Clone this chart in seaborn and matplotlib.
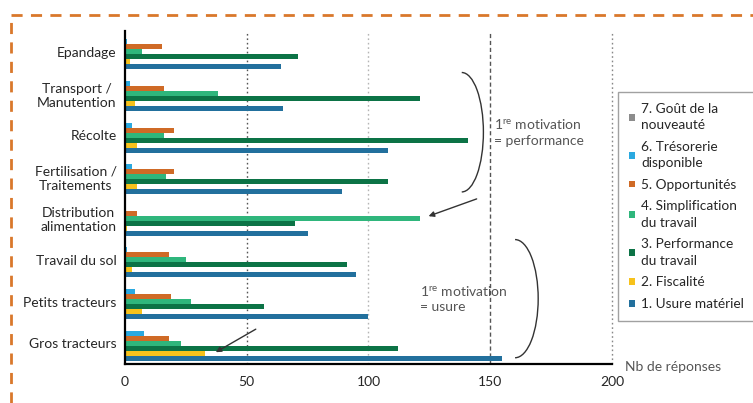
import matplotlib
matplotlib.use('Agg')
import matplotlib.pyplot as plt
from matplotlib.patches import Arc
from matplotlib.lines import Line2D
import seaborn as sns
import pandas as pd

# DATA
categories = ['Epandage', 'Transport /\nManutention', 'Récolte', 'Fertilisation /\nTraitements',
              'Distribution\nalimentation', 'Travail du sol', 'Petits tracteurs', 'Gros tracteurs']
series_names = ['7. Goût de la nouveauté', '6. Trésorerie disponible', '5. Opportunités',
                '4. Simplification du travail', '3. Performance du travail', '2. Fiscalité',
                '1. Usure matériel']
legend_labels = ['7. Goût de la\nnouveauté', '6. Trésorerie\ndisponible', '5. Opportunités',
                 '4. Simplification\ndu travail', '3. Performance\ndu travail', '2. Fiscalité',
                 '1. Usure matériel']
gout = [0, 0, 0, 0, 0, 0, 0, 0]
tresorerie = [1, 2, 3, 3, 0, 1, 4, 8]
opportunites = [15, 16, 20, 20, 5, 18, 19, 18]
simplification = [7, 38, 16, 17, 121, 25, 27, 23]
performance = [71, 121, 141, 108, 70, 91, 57, 112]
fiscalite = [2, 4, 5, 5, 1, 3, 7, 33]
usure = [64, 65, 108, 89, 75, 95, 100, 155]
x_ticks = [0, 50, 100, 150, 200]

colors = ['#8c8c8c', '#2aa9e0', '#cf6a26', '#2fb67c', '#0c7346', '#f7c21b', '#22709d']


def build_df():
    values = [gout, tresorerie, opportunites, simplification, performance, fiscalite, usure]
    rows = []
    for name, vals in zip(series_names, values):
        for cat, v in zip(categories, vals):
            rows.append({'categorie': cat, 'motivation': name, 'reponses': v})
    return pd.DataFrame(rows)


def main():
    sns.set_style('white')
    plt.rcParams['font.family'] = ['Lato', 'DejaVu Sans']
    plt.rcParams['mathtext.fontset'] = 'custom'
    plt.rcParams['mathtext.rm'] = 'Lato'

    df = build_df()

    fig = plt.figure(figsize=(7.53, 4.03), dpi=100)
    ax = fig.add_axes([0.166, 0.0968, 0.6467, 0.826])

    sns.barplot(data=df, y='categorie', x='reponses', hue='motivation', hue_order=series_names,
                order=categories, palette=colors, orient='h', width=0.84, gap=0.0,
                errorbar=None, saturation=1, linewidth=0, ax=ax)

    ax.set_xlim(0, 200)
    ax.set_ylim(7.5, -0.5)
    ax.set_xticks(x_ticks)
    ax.set_xlabel('')
    ax.set_ylabel('')

    # grid lines
    ax.xaxis.grid(True)
    styles = [(None, None), ('#555555', (0, (1.2, 2))), ('#b5b5b5', (0, (1.2, 2))),
              ('#555555', (0, (3, 2))), ('#888888', (0, (1.2, 2)))]
    for gl, (c, ls) in zip(ax.get_xgridlines(), styles):
        if c is None:
            gl.set_visible(False)
        else:
            gl.set_color(c)
            gl.set_linestyle(ls)
            gl.set_linewidth(1)
            gl.set_clip_on(False)
    ax.set_axisbelow(True)

    sns.despine(ax=ax, top=True, right=True)
    for s in ['left', 'bottom']:
        ax.spines[s].set_color('black')
        ax.spines[s].set_linewidth(1.6)

    ax.set_yticks([i - 0.5 for i in range(len(categories) + 1)], minor=True)
    ax.tick_params(axis='y', which='major', length=0, pad=6, labelsize=10)
    ax.tick_params(axis='y', which='minor', length=4, width=1.4, direction='out', color='black')
    ax.tick_params(axis='x', length=5, width=1.2, direction='inout', labelsize=10, pad=6, color='black')
    for lab in ax.get_yticklabels():
        lab.set_multialignment('center')

    # legend
    handles, _ = ax.get_legend_handles_labels()
    leg = ax.legend(handles, legend_labels, loc='upper left', bbox_to_anchor=(0.821, 0.772),
                    bbox_transform=fig.transFigure, frameon=True, fancybox=False,
                    edgecolor='#8a8a8a', fontsize=9.8, handlelength=0.4, handleheight=0.4,
                    handletextpad=0.5, labelspacing=0.7, borderpad=0.8, borderaxespad=0)
    for t in leg.get_texts():
        t.set_linespacing(1.45)

    # annotations
    ax.add_patch(Arc((138.3, 1.93), 17.8, 2.87, theta1=-90, theta2=90, color='#333333', lw=1))
    ax.add_patch(Arc((160.2, 5.93), 19.0, 2.84, theta1=-90, theta2=90, color='#333333', lw=1))
    ax.text(151.5, 1.93, '1$^{\\mathrm{re}}$ motivation\n= performance', fontsize=10,
            color='#555555', va='center', ha='left', linespacing=1.25)
    ax.text(121, 5.93, '1$^{\\mathrm{re}}$ motivation\n= usure', fontsize=10,
            color='#555555', va='center', ha='left', linespacing=1.25)
    ax.annotate('', xy=(123.6, 3.97), xytext=(145.5, 3.51),
                arrowprops=dict(arrowstyle='-|>', color='#333333', lw=1, mutation_scale=8))
    ax.annotate('', xy=(36.3, 7.25), xytext=(54.7, 6.63),
                arrowprops=dict(arrowstyle='-|>', color='#333333', lw=1, mutation_scale=8))
    ax.text(1.027, -0.008, 'Nb de réponses', transform=ax.transAxes, fontsize=10,
            color='#555555', va='center', ha='left')

    # dashed orange frame
    fig.add_artist(Line2D([0.014, 0.014], [0.0, 0.962], transform=fig.transFigure,
                          color='#d9782b', lw=2, linestyle=(0, (4, 3))))
    fig.add_artist(Line2D([0.014, 1.0], [0.962, 0.962], transform=fig.transFigure,
                          color='#d9782b', lw=2, linestyle=(0, (4, 3))))

    plt.savefig('out.png', dpi=100)


if __name__ == '__main__':
    main()
